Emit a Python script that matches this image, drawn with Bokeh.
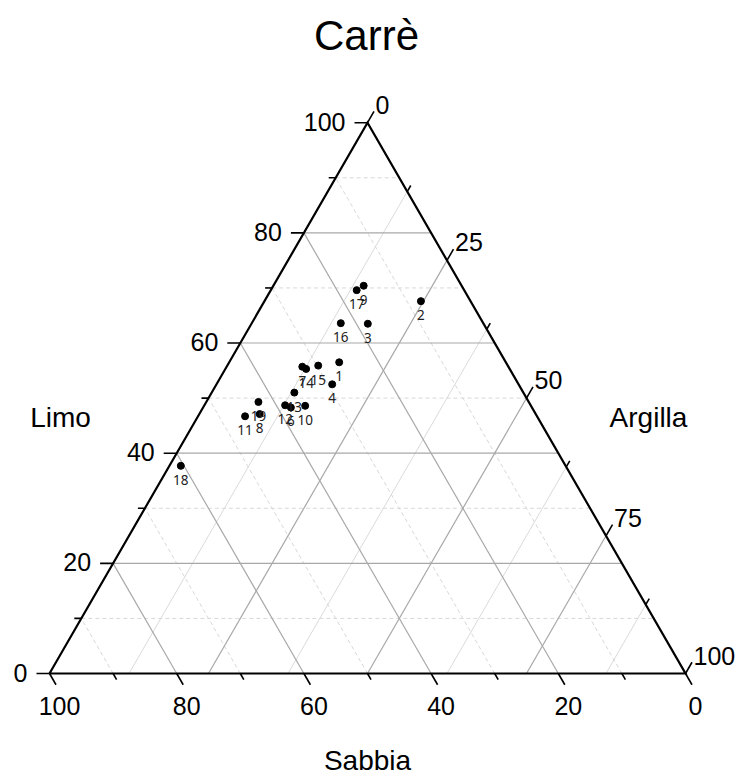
import numpy as np
from bokeh.plotting import figure
from bokeh.models import Range1d, ColumnDataSource
from bokeh.core.properties import value
from bokeh.embed import file_html
from bokeh.resources import INLINE

# ---------------- data (percent) ----------------
labels  = ["1", "2", "3", "4", "6", "7", "8", "9", "10", "11",
           "12", "13", "14", "15", "16", "17", "18", "19"]
limo    = [56.5, 67.6, 63.5, 52.5, 48.3, 55.7, 47.1, 70.4, 48.6, 46.7,
           48.7, 51.0, 55.3, 55.9, 63.6, 69.6, 37.7, 49.3]
argilla = [17.3, 24.6, 18.3, 18.2, 13.8, 11.9, 9.5, 14.2, 15.9, 7.4,
           12.7, 13.0, 12.7, 14.3, 14.0, 13.5, 1.8, 8.2]
sabbia  = [26.2, 7.8, 18.2, 29.3, 37.9, 32.4, 43.4, 15.4, 35.5, 45.9,
           38.6, 36.0, 32.0, 29.8, 22.4, 16.9, 60.5, 42.5]

limo_ticks = [0, 20, 40, 60, 80, 100]
limo_minor = [10, 30, 50, 70, 90]
sabbia_ticks = [100, 80, 60, 40, 20, 0]
sabbia_minor = [90, 70, 50, 30, 10]
argilla_ticks = [0, 25, 50, 75, 100]
argilla_minor = [12.5, 37.5, 62.5, 87.5]

title_text = "Carrè"
FONT = "Liberation Sans"

# ---------------- geometry helpers ----------------
S3 = np.sqrt(3) / 2
PX = 1 / 636.0  # one screen pixel in data units


def tern(s, l, c):
    s = np.asarray(s, float); l = np.asarray(l, float); c = np.asarray(c, float)
    t = s + l + c
    return (c + l / 2) / t, l * S3 / t


p = figure(width=739, height=776, output_backend="svg", toolbar_location=None,
           x_range=Range1d(-49 * PX, 690 * PX), y_range=Range1d(-103 * PX, 673 * PX),
           x_axis_location=None, y_axis_location=None, min_border=0,
           background_fill_color="white", border_fill_color="white")
p.outline_line_color = None
p.grid.visible = False
p.title.visible = False


def segs(pairs):
    x0 = [a[0] for a, b in pairs]; y0 = [a[1] for a, b in pairs]
    x1 = [b[0] for a, b in pairs]; y1 = [b[1] for a, b in pairs]
    return dict(x0=x0, y0=y0, x1=x1, y1=y1)


# ---------------- grid ----------------
major_grid, dashed_grid, light_grid = [], [], []
for v in limo_ticks[1:-1]:
    major_grid.append((tern(100 - v, v, 0), tern(0, v, 100 - v)))
for v in limo_minor:
    dashed_grid.append((tern(100 - v, v, 0), tern(0, v, 100 - v)))
for v in sabbia_ticks[1:-1]:
    major_grid.append((tern(v, 0, 100 - v), tern(v, 100 - v, 0)))
for v in sabbia_minor:
    dashed_grid.append((tern(v, 0, 100 - v), tern(v, 100 - v, 0)))
for v in argilla_ticks[1:-1]:
    major_grid.append((tern(100 - v, 0, v), tern(0, 100 - v, v)))
for v in argilla_minor:
    light_grid.append((tern(100 - v, 0, v), tern(0, 100 - v, v)))

p.segment(source=ColumnDataSource(segs(light_grid)), x0="x0", y0="y0", x1="x1", y1="y1",
          line_color="#dadada", line_width=1)
p.segment(source=ColumnDataSource(segs(dashed_grid)), x0="x0", y0="y0", x1="x1", y1="y1",
          line_color="#d8d8d8", line_width=1, line_dash="4 3")
p.segment(source=ColumnDataSource(segs(major_grid)), x0="x0", y0="y0", x1="x1", y1="y1",
          line_color="#a8a8a8", line_width=1.2)

# ---------------- ticks ----------------
MAJ, MIN = 13 * PX, 7 * PX
ticks = []
for vals, ln in ((limo_ticks, MAJ), (limo_minor, MIN)):
    for v in vals:
        a = tern(100 - v, v, 0)
        ticks.append((a, (a[0] - ln, a[1])))
for vals, ln in ((sabbia_ticks, MAJ), (sabbia_minor, MIN)):
    for v in vals:
        a = tern(v, 0, 100 - v)
        ticks.append((a, (a[0] + 0.5 * ln, a[1] - S3 * ln)))
for vals, ln in ((argilla_ticks, MAJ), (argilla_minor, MIN)):
    for v in vals:
        a = tern(0, 100 - v, v)
        ticks.append((a, (a[0] + 0.5 * ln, a[1] + S3 * ln)))
p.segment(source=ColumnDataSource(segs(ticks)), x0="x0", y0="y0", x1="x1", y1="y1",
          line_color="black", line_width=1.6)

# ---------------- triangle edges ----------------
ex, ey = tern([100, 0, 0, 100], [0, 0, 100, 0], [0, 100, 0, 0])
p.line(ex, ey, line_color="black", line_width=2.2, line_join="miter")

# ---------------- tick labels ----------------
lx, ly = tern([100 - v for v in limo_ticks], limo_ticks, [0] * len(limo_ticks))
p.text(lx - 22 * PX, ly + 1 * PX, text=[str(v) for v in limo_ticks],
       text_align="right", text_baseline="middle", text_font=value(FONT),
       text_font_size="25px", text_color="black")

bx, by = tern(sabbia_ticks, [0] * len(sabbia_ticks), [100 - v for v in sabbia_ticks])
p.text(bx + 10 * PX, by - 32 * PX, text=[str(v) for v in sabbia_ticks],
       text_align="center", text_baseline="middle", text_font=value(FONT),
       text_font_size="25px", text_color="black")

rx, ry = tern([0] * len(argilla_ticks), [100 - v for v in argilla_ticks], argilla_ticks)
p.text(rx + 8 * PX, ry + 18 * PX, text=[str(v) for v in argilla_ticks],
       text_align="left", text_baseline="middle", text_font=value(FONT),
       text_font_size="25px", text_color="black")

# ---------------- axis titles & title ----------------
def at(xp, yp):
    return (xp - 49) * PX, (673 - yp) * PX

for txt, (xp, yp), size in (("Limo", (60, 417), "28px"), ("Argilla", (648, 417), "28px"),
                            ("Sabbia", (367, 760), "28px"), (title_text, (366, 35), "42px")):
    xx, yy = at(xp, yp)
    p.text([xx], [yy], text=[txt], text_align="center", text_baseline="middle",
           text_font=value(FONT), text_font_size=size, text_color="black")

# ---------------- points ----------------
px_, py_ = tern(sabbia, limo, argilla)
src = ColumnDataSource(dict(x=px_, y=py_, ly=py_ - 14 * PX, lab=labels))
p.scatter("x", "y", source=src, size=7, fill_color="black", line_color="black")
p.text("x", "ly", text="lab", source=src, text_align="center", text_baseline="middle",
       text_font=value("Noto Sans"), text_font_size="13.5px", text_color="#222222")

open("out.html", "w").write(file_html(p, INLINE))
